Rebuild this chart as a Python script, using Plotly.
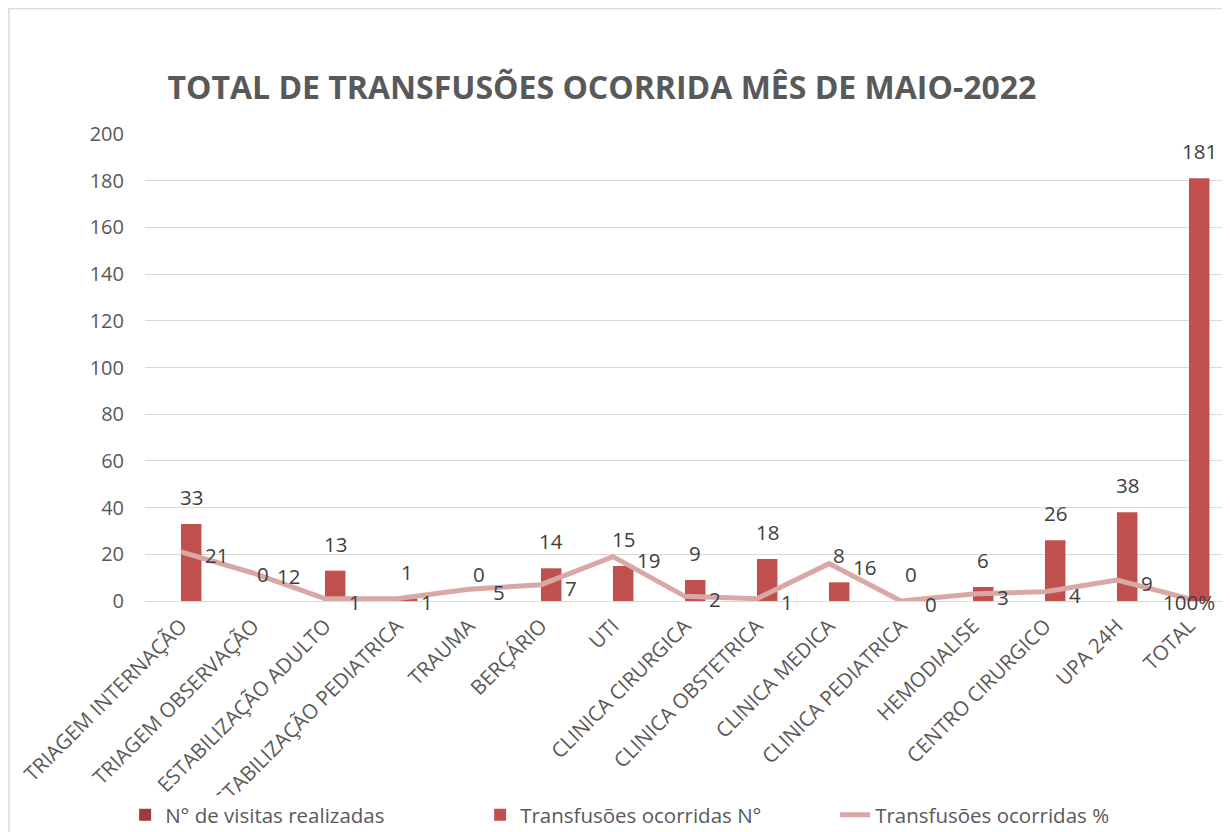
import plotly.graph_objects as go

# ── Data ────────────────────────────────────────────────────────────────────
categorias = [
    "TRIAGEM INTERNAÇÃO", "TRIAGEM OBSERVAÇÃO", "ESTABILIZAÇÃO ADULTO",
    "ESTABILIZAÇÃO PEDIATRICA", "TRAUMA", "BERÇÁRIO", "UTI",
    "CLINICA CIRURGICA", "CLINICA OBSTETRICA", "CLINICA MEDICA",
    "CLINICA PEDIATRICA", "HEMODIALISE", "CENTRO CIRURGICO", "UPA 24H", "TOTAL",
]
visitas_realizadas = [None] * 15
transfusoes_n = [33, 0, 13, 1, 0, 14, 15, 9, 18, 8, 0, 6, 26, 38, 181]
transfusoes_pct = [21, 12, 1, 1, 5, 7, 19, 2, 1, 16, 0, 3, 4, 9, 1]
pct_labels = ["21", "12", "1", "1", "5", "7", "19", "2", "1", "16", "0", "3", "4", "9", "100%"]

TITLE = "TOTAL DE TRANSFUSÕES OCORRIDA MÊS DE MAIO-2022"
FONT = "Open Sans, Lato, sans-serif"
GREY = "#595959"
LABEL = "#404040"
BAR_W = 0.284

fig = go.Figure()

fig.add_trace(go.Bar(
    x=categorias, y=visitas_realizadas, name="N° de visitas realizadas",
    marker=dict(color="#9E3B38", line=dict(width=0)),
    width=BAR_W, offset=-BAR_W,
))
fig.add_trace(go.Bar(
    x=categorias, y=transfusoes_n, name="Transfusões ocorridas N°",
    marker=dict(color="#C0504D", line=dict(width=0)),
    width=BAR_W, offset=0,
))
fig.add_trace(go.Scatter(
    x=categorias, y=transfusoes_pct, name="Transfusões ocorridas %",
    mode="lines", line=dict(color="#D9A7A6", width=5),
))

annotations = []
# bar data labels
for cat, v in zip(categorias, transfusoes_n):
    annotations.append(dict(
        x=cat, y=v, text=str(v), showarrow=False, xanchor="center", yanchor="bottom",
        xshift=10, yshift=11, font=dict(family=FONT, size=20.5, color=LABEL),
    ))
# line data labels
for i, (cat, v, t) in enumerate(zip(categorias, transfusoes_pct, pct_labels)):
    last = i == len(categorias) - 1
    annotations.append(dict(
        x=cat, y=v, text=t, showarrow=False,
        xanchor="center" if last else "left", yanchor="middle",
        xshift=0 if last else 22, yshift=-3,
        font=dict(family=FONT, size=20.5, color=LABEL),
    ))
fig.update_layout(annotations=annotations)

# chart border
fig.add_shape(type="rect", xref="paper", yref="paper",
              x0=-0.1259, x1=1.0028, y0=-0.6, y1=1.2685,
              line=dict(color="#D9D9D9", width=1.5), layer="below")

# page body has an 8px margin, so the figure is 8px smaller and margins shifted
fig.update_layout(
    width=1222, height=824,
    margin=dict(l=137, r=5, t=126, b=231, autoexpand=False),
    paper_bgcolor="white", plot_bgcolor="white",
    font=dict(family=FONT, color=GREY, size=20),
    title=dict(text=f"<b>{TITLE}</b>", x=0.486, xanchor="center",
               y=0.903, yanchor="middle",
               font=dict(family=FONT, size=32, color=GREY)),
    barmode="overlay",
    showlegend=True,
    legend=dict(orientation="h", x=-0.0184, xanchor="left", y=-0.458, yanchor="middle",
                entrywidth=310, entrywidthmode="pixels",
                font=dict(family=FONT, size=20.5, color=GREY), traceorder="normal"),
    xaxis=dict(tickangle=-45, showgrid=False, showline=False, ticks="", automargin=False,
               ticklabelstandoff=8,
               tickfont=dict(family=FONT, size=20.5, color=GREY)),
    yaxis=dict(range=[0, 200], dtick=20, showgrid=True, gridcolor="#D9D9D9", gridwidth=1,
               zeroline=True, zerolinecolor="#D9D9D9", zerolinewidth=1, showline=False,
               ticks="", ticklabelstandoff=20, automargin=False,
               tickfont=dict(family=FONT, size=20, color=GREY)),
)

fig.write_html("out.html")
